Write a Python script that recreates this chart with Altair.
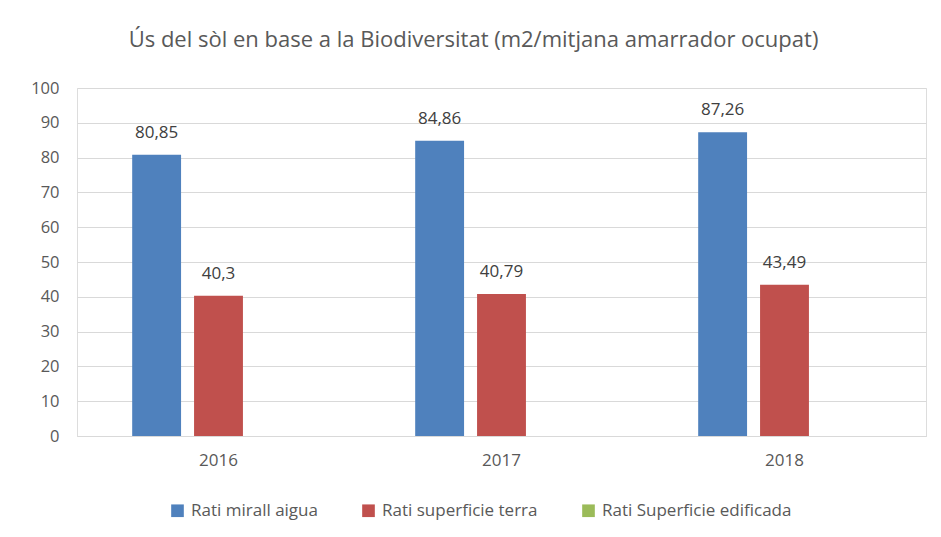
import altair as alt
import pandas as pd

years = ["2016", "2017", "2018"]
series = ["Rati mirall aigua", "Rati superficie terra", "Rati Superficie edificada"]
mirall = [80.85, 84.86, 87.26]
terra = [40.3, 40.79, 43.49]
edificada = [None, None, None]
colors = ["#4F81BD", "#C0504D", "#9BBB59"]

rows = []
for s, vals in zip(series, [mirall, terra, edificada]):
    for y, v in zip(years, vals):
        rows.append({"year": y, "series": s, "value": v,
                     "label": ("" if v is None else f"{v:g}".replace(".", ","))})
df = pd.DataFrame(rows)

font = "Open Sans"
x = alt.X("year:N", title=None, scale=alt.Scale(paddingInner=0.39, paddingOuter=0.195),
          axis=alt.Axis(labelAngle=0, labelFontSize=17, labelColor="#595959", labelFont=font,
                        labelPadding=16, ticks=False, domainColor="#D9D9D9"))
xo = alt.XOffset("series:N", scale=alt.Scale(domain=series, paddingInner=0.21, paddingOuter=0))
y = alt.Y("value:Q", title=None,
          scale=alt.Scale(domain=[0, 100]),
          axis=alt.Axis(values=list(range(0, 101, 10)), labelFontSize=16.5, labelColor="#595959",
                        labelFont=font, labelPadding=18, ticks=False, domain=False,
                        gridColor="#D9D9D9"))

bars = alt.Chart(df).mark_bar().encode(
    x=x, xOffset=xo, y=y,
    color=alt.Color("series:N", scale=alt.Scale(domain=series, range=colors),
                    legend=alt.Legend(title=None, orient="none", direction="horizontal",
                                      legendX=92, legendY=414, columns=3, columnPadding=42,
                                      symbolType="square", symbolSize=160, labelFontSize=17,
                                      labelOffset=5, labelLimit=400, labelColor="#595959",
                                      labelFont=font, symbolStrokeWidth=0))
)

labels = alt.Chart(df).transform_filter("datum.value != null").mark_text(
    dy=-13, fontSize=17, color="#404040", font=font, baseline="bottom"
).encode(x=x, xOffset=xo, y=y, text="label:N")

chart = alt.layer(bars, labels).properties(
    width=849, height=348,
    title=alt.TitleParams("Ús del sòl en base a la Biodiversitat (m2/mitjana  amarrador ocupat)",
                          fontSize=22, font=font, fontWeight="normal", color="#595959",
                          anchor="middle", dx=-28, offset=28),
    padding={"left": 69, "top": 80, "right": 5, "bottom": 90},
    autosize=alt.AutoSizeParams(type="none"),
).configure_view(stroke=None).configure(background="white")

chart.save("out.html", embed_options={"renderer": "svg", "actions": False})
